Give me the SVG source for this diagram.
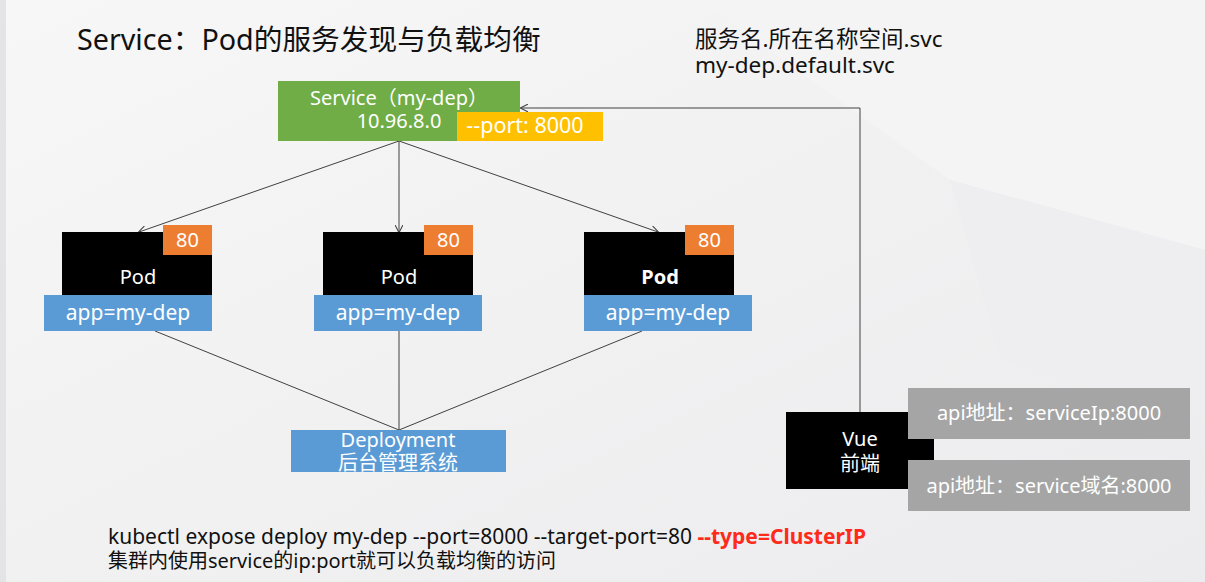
<svg xmlns="http://www.w3.org/2000/svg" width="1205" height="582" viewBox="0 0 1205 582">
<style>
text{font-family:"Noto Sans","Noto Sans CJK SC",sans-serif;}
.w{fill:#ffffff;font-size:20px;text-anchor:middle;}
.pod{fill:#000000;}
.badge{fill:#ED7D31;}
.lbl{fill:#5B9BD5;}
.gray{fill:#A5A5A5;}
.ln{stroke:#404040;stroke-width:1;fill:none;}
.dark{fill:#000000;}
</style>
<defs>
<marker id="arr" viewBox="0 0 10 10" refX="9" refY="5" markerWidth="8" markerHeight="8" orient="auto" markerUnits="userSpaceOnUse">
<path d="M0,0 L10,5 L0,10" fill="none" stroke="#404040" stroke-width="1.3"/>
</marker>
<linearGradient id="bg" x1="0" y1="0" x2="1" y2="1">
<stop offset="0" stop-color="#f7f7f7"/>
<stop offset="0.5" stop-color="#f1f1f2"/>
<stop offset="1" stop-color="#ececee"/>
</linearGradient>
</defs>
<rect width="1205" height="582" fill="url(#bg)"/>
<polygon points="700,0 1205,0 1205,250 950,180" fill="#f4f4f5"/>
<polygon points="950,180 1205,250 1205,420 1000,360" fill="#eeeef0"/>
<polygon points="0,0 6,0 6,582 0,582" fill="#e4e4e6"/>

<text x="77" y="50" style="font-size:28.7px;fill:#111">Service：Pod的服务发现与负载均衡</text>
<text x="695" y="47" style="font-size:22.5px;fill:#111">服务名.所在名称空间.svc</text>
<text x="695" y="73" style="font-size:22.5px;fill:#111">my-dep.default.svc</text>

<g id="connectors">
<line class="ln" x1="399" y1="141" x2="139" y2="232" marker-end="url(#arr)"/>
<line class="ln" x1="399" y1="141" x2="399" y2="232" marker-end="url(#arr)"/>
<line class="ln" x1="399" y1="141" x2="658" y2="232" marker-end="url(#arr)"/>
<line class="ln" x1="155" y1="331" x2="399" y2="430"/>
<line class="ln" x1="399" y1="331" x2="399" y2="430"/>
<line class="ln" x1="642" y1="331" x2="399" y2="430"/>
<polyline class="ln" points="860,412 860,108 521,108" marker-end="url(#arr)"/>
</g>

<g id="service">
<rect x="278" y="81" width="242" height="60" fill="#70AD47"/>
<text class="w" x="399" y="105">Service（my-dep）</text>
<text class="w" x="399" y="128">10.96.8.0</text>
<rect x="457" y="112" width="146" height="29" fill="#FFC000"/>
<text class="w" x="525" y="133" style="font-size:21.5px">--port: 8000</text>
</g>

<g id="pod1">
<rect class="pod" x="62" y="232" width="150" height="63"/>
<rect class="badge" x="163" y="225" width="49" height="30"/>
<text class="w" x="187.5" y="247">80</text>
<text class="w" x="138" y="284">Pod</text>
<rect class="lbl" x="44" y="295" width="168" height="36"/>
<text class="w" x="128" y="320" style="font-size:21px">app=my-dep</text>
</g>

<g id="pod2">
<rect class="pod" x="323" y="232" width="150" height="63"/>
<rect class="badge" x="424" y="225" width="49" height="30"/>
<text class="w" x="448.5" y="247">80</text>
<text class="w" x="399" y="284">Pod</text>
<rect class="lbl" x="314" y="295" width="168" height="36"/>
<text class="w" x="398" y="320" style="font-size:21px">app=my-dep</text>
</g>

<g id="pod3">
<rect class="pod" x="584" y="232" width="150" height="63"/>
<rect class="badge" x="685" y="225" width="49" height="30"/>
<text class="w" x="709.5" y="247">80</text>
<text class="w" x="660" y="284" font-weight="bold">Pod</text>
<rect class="lbl" x="584" y="295" width="168" height="36"/>
<text class="w" x="668" y="320" style="font-size:21px">app=my-dep</text>
</g>

<g id="deployment">
<rect class="lbl" x="291" y="430" width="215" height="42"/>
<text class="w" x="398" y="447">Deployment</text>
<text class="w" x="398" y="470">后台管理系统</text>
</g>

<g id="vue">
<rect class="dark" x="786" y="412" width="148" height="77"/>
<text class="w" x="860" y="446">Vue</text>
<text class="w" x="860" y="471">前端</text>
</g>

<g id="api1">
<rect class="gray" x="908" y="388" width="282" height="51"/>
<text class="w" x="1049" y="420">api地址：serviceIp:8000</text>
</g>

<g id="api2">
<rect class="gray" x="908" y="460" width="282" height="51"/>
<text class="w" x="1049" y="493">api地址：service域名:8000</text>
</g>

<text x="108" y="544" style="font-size:21px;fill:#111">kubectl expose deploy my-dep --port=8000 --target-port=80 <tspan fill="#FF2A1A" font-weight="bold">--type=ClusterIP</tspan></text>
<text x="108" y="568" style="font-size:20px;fill:#111">集群内使用service的ip:port就可以负载均衡的访问</text>
</svg>
